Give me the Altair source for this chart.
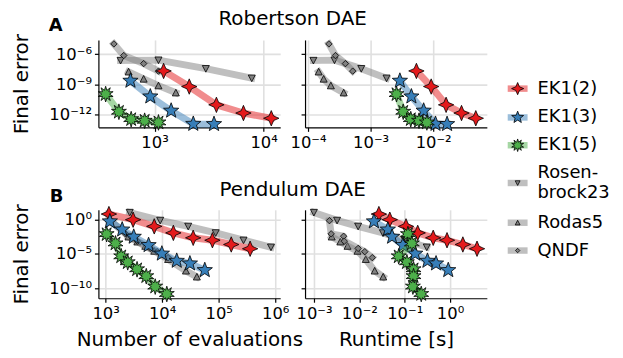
import math
import altair as alt
import pandas as pd

# ---------------- data ----------------
methods = ["EK1(2)", "EK1(3)", "EK1(5)", "Rosenbrock23", "Rodas5", "QNDF"]

# Robertson DAE
rob_ek1_2_err = [2.2e-8, 6.2e-10, 9.5e-12, 1.45e-12, 4.4e-13]
rob_ek1_2_nevals = [1210, 2080, 3690, 6530, 11750]
rob_ek1_2_runtime = [5.4e-3, 9.3e-3, 1.61e-2, 2.84e-2, 4.8e-2]

rob_ek1_3_err = [2.3e-9, 6.3e-11, 2.45e-12, 1.2e-13, 1.15e-13]
rob_ek1_3_nevals = [601, 914, 1419, 2265, 3508]
rob_ek1_3_runtime = [2.94e-3, 4.49e-3, 7.05e-3, 1.09e-2, 1.67e-2]

rob_ek1_5_err = [1.1e-10, 1.95e-12, 3.6e-13, 2.5e-13, 1.7e-13]
rob_ek1_5_nevals = [356, 471, 610, 811, 1086]
rob_ek1_5_runtime = [2.6e-3, 3.32e-3, 4.39e-3, 5.94e-3, 7.94e-3]

rob_rosenbrock_err = [2.4e-7, 2.6e-7, 3.7e-8, 4.2e-9]
rob_rosenbrock_nevals = [488, 1086, 2951, 7780]
rob_rosenbrock_runtime = [1.22e-4, 2.65e-4, 7.1e-4, 1.8e-3]

rob_rodas5_err = [1.8e-8, 3.5e-9, 7.6e-10, 1.5e-10]
rob_rodas5_nevals = [578, 794, 1086, 1567]
rob_rodas5_runtime = [1.48e-4, 1.78e-4, 2.32e-4, 3.72e-4]

rob_qndf_err = [1.05e-5, 7.4e-7, 1.17e-7, 2.1e-8]
rob_qndf_nevals = [424, 522, 794, 1086]
rob_qndf_runtime = [2.16e-4, 2.75e-4, 3.96e-4, 5.18e-4]

# Pendulum DAE
pen_ek1_2_err = [6.6, 1.0, 0.107, 0.012, 2.3e-3, 1.02e-3, 2.45e-4, 5.9e-5]
pen_ek1_2_nevals = [1143, 3062, 7244, 15780, 35400, 77450, 166700, 359700]
pen_ek1_2_runtime = [0.027, 0.047, 0.107, 0.194, 0.426, 0.859, 1.92, 3.94]

pen_ek1_3_err = [0.56, 0.036, 3.2e-3, 1.95e-4, 1.12e-5, 1.0e-6, 4.1e-7, 4.4e-8]
pen_ek1_3_nevals = [1189, 1963, 3141, 5754, 9886, 18110, 30970, 56750]
pen_ek1_3_runtime = [0.021, 0.0426, 0.0528, 0.0918, 0.171, 0.318, 0.492, 0.914]

pen_ek1_5_err = [7.9e-3, 3.5e-4, 4.6e-6, 6.3e-7, 6.0e-8, 5.9e-9, 1.8e-10, 1.5e-11]
pen_ek1_5_nevals = [1042, 1496, 1884, 2460, 3597, 5236, 7534, 12080]
pen_ek1_5_runtime = [0.118, 0.144, 0.074, 0.112, 0.157, 0.157, 0.152, 0.232]

pen_rosenbrock_err = [11.2, 0.79, 0.107, 0.012, 1.02e-3, 1.0e-4]
pen_rosenbrock_nevals = [2667, 9226, 28900, 88500, 274800, 841000]
pen_rosenbrock_runtime = [9.95e-4, 3.23e-3, 9.42e-3, 0.0331, 0.1, 0.307]

pen_rodas5_err = [3.2e-3, 6.0e-4, 1.41e-4, 2.7e-5, 1.7e-6, 3.5e-8, 4.7e-9]
pen_rodas5_nevals = [2535, 3639, 5035, 7244, 12740, 26360, 41110]
pen_rodas5_runtime = [2.46e-3, 3.81e-3, 5.5e-3, 9.1e-3, 0.01387, 0.0218, 0.0336]

pen_qndf_err = [0.72, 8.7e-3, 3.9e-3, 7.4e-4, 6.6e-5, 2.2e-5, 3.0e-6]
pen_qndf_nevals = [1225, 2244, 2748, 3639, 6152, 8166, 12740]
pen_qndf_runtime = [2.19e-3, 2.39e-3, 4.5e-3, 4.66e-3, 9.42e-3, 0.0132, 0.0193]

# axis ticks / domains
rob_nevals_ticks = [1e3, 1e4]
rob_runtime_ticks = [1e-4, 1e-3, 1e-2]
rob_err_ticks = [1e-12, 1e-9, 1e-6]
pen_nevals_ticks = [1e3, 1e4, 1e5, 1e6]
pen_runtime_ticks = [1e-3, 1e-2, 1e-1, 1e0]
pen_err_ticks = [1e-10, 1e-5, 1e0]

rob_nevals_domain = [305.5, 14190]
rob_runtime_domain = [8.97e-5, 0.0721]
rob_err_domain = [5.5e-14, 2.63e-5]
pen_nevals_domain = [745, 1.225e6]
pen_runtime_domain = [6.35e-4, 6.49]
pen_err_domain = [3.63e-12, 27.5]

# ---------------- assemble tables ----------------
series = {
    "Robertson": {
        "EK1(2)": (rob_ek1_2_err, rob_ek1_2_nevals, rob_ek1_2_runtime),
        "EK1(3)": (rob_ek1_3_err, rob_ek1_3_nevals, rob_ek1_3_runtime),
        "EK1(5)": (rob_ek1_5_err, rob_ek1_5_nevals, rob_ek1_5_runtime),
        "Rosenbrock23": (rob_rosenbrock_err, rob_rosenbrock_nevals, rob_rosenbrock_runtime),
        "Rodas5": (rob_rodas5_err, rob_rodas5_nevals, rob_rodas5_runtime),
        "QNDF": (rob_qndf_err, rob_qndf_nevals, rob_qndf_runtime),
    },
    "Pendulum": {
        "EK1(2)": (pen_ek1_2_err, pen_ek1_2_nevals, pen_ek1_2_runtime),
        "EK1(3)": (pen_ek1_3_err, pen_ek1_3_nevals, pen_ek1_3_runtime),
        "EK1(5)": (pen_ek1_5_err, pen_ek1_5_nevals, pen_ek1_5_runtime),
        "Rosenbrock23": (pen_rosenbrock_err, pen_rosenbrock_nevals, pen_rosenbrock_runtime),
        "Rodas5": (pen_rodas5_err, pen_rodas5_nevals, pen_rodas5_runtime),
        "QNDF": (pen_qndf_err, pen_qndf_nevals, pen_qndf_runtime),
    },
}

FONT = "DejaVu Sans"
GRAY = "#808080"
line_color = {"EK1(2)": "#e41a1c", "EK1(3)": "#377eb8", "EK1(5)": "#4daf4a",
              "Rosenbrock23": GRAY, "Rodas5": GRAY, "QNDF": GRAY}
fill_color = line_color


def star_path(n, inner):
    pts = []
    for k in range(2 * n):
        a = -math.pi / 2 + k * math.pi / n
        r = 1.0 if k % 2 == 0 else inner
        pts.append(f"{r * math.cos(a):.3f},{r * math.sin(a):.3f}")
    return "M" + "L".join(pts) + "Z"


shape = {
    "EK1(2)": star_path(4, 0.42),
    "EK1(3)": star_path(5, 0.42),
    "EK1(5)": star_path(10, 0.5),
    "Rosenbrock23": "M0,1L-1,-0.9L1,-0.9Z",
    "Rodas5": "M0,-1L-1,0.9L1,0.9Z",
    "QNDF": "M0,-1L1,0L0,1L-1,0Z",
}
msize = {"EK1(2)": 240, "EK1(3)": 260, "EK1(5)": 250,
         "Rosenbrock23": 50, "Rodas5": 50, "QNDF": 42}
lsize = {"EK1(2)": 150, "EK1(3)": 160, "EK1(5)": 160,
         "Rosenbrock23": 24, "Rodas5": 24, "QNDF": 20}
draw_order = ["Rosenbrock23", "Rodas5", "QNDF", "EK1(2)", "EK1(3)", "EK1(5)"]

SUP = {"-": "\u207b", "0": "\u2070", "1": "\u00b9", "2": "\u00b2", "3": "\u00b3",
       "4": "\u2074", "5": "\u2075", "6": "\u2076", "7": "\u2077", "8": "\u2078", "9": "\u2079"}


def label_expr(ticks):
    expr = "''"
    for t in ticks:
        e = int(round(math.log10(t)))
        s = "10" + "".join(SUP[c] for c in str(e))
        expr = f"(round(log(datum.value)/LN10) == {e} ? '{s}' : {expr})"
    return expr


W, HT, HB = 183, 88, 89


def panel(prob, xkey, xdomain, xticks, ydomain, yticks, height, left, xtitle):
    rows = []
    for m in methods:
        err, nev, rt = series[prob][m]
        for i in range(len(err)):
            rows.append({"method": m, "idx": i, "err": err[i],
                         "nevals": nev[i], "runtime": rt[i]})
    df = pd.DataFrame(rows)

    xaxis = alt.Axis(values=xticks, labelExpr=label_expr(xticks), grid=True,
                     title=xtitle if xtitle else None,
                     titleY=48, titleBaseline="alphabetic", titleAnchor="middle")
    if left:
        yaxis = alt.Axis(values=yticks, labelExpr=label_expr(yticks), grid=True,
                         title="Final error", titleX=-71, titleY=height / 2,
                         titleAngle=270, titleBaseline="alphabetic", titleAlign="center")
    else:
        yaxis = alt.Axis(values=yticks, labels=False, grid=True, title=None)
    X = alt.X(f"{xkey}:Q", scale=alt.Scale(type="log", domain=xdomain, nice=False), axis=xaxis)
    Y = alt.Y("err:Q", scale=alt.Scale(type="log", domain=ydomain, nice=False), axis=yaxis)

    layers = []
    for m in draw_order:
        d = df[df.method == m]
        base = alt.Chart(d).encode(x=X, y=Y, order="idx:Q")
        layers.append(base.mark_line(color=line_color[m], strokeWidth=7, opacity=0.5,
                                     strokeCap="square", strokeJoin="round"))
        layers.append(base.mark_point(shape=shape[m], filled=True, fill=fill_color[m],
                                      stroke="black", strokeWidth=0.8, opacity=1,
                                      size=msize[m]))
    return layers


def text_layer(txt, x, y, **kw):
    return alt.Chart(pd.DataFrame({"t": [txt]})).mark_text(font=FONT, **kw).encode(
        x=alt.value(x), y=alt.value(y), text="t:N")


# panels
tl_layers = panel("Robertson", "nevals", rob_nevals_domain, rob_nevals_ticks,
                  rob_err_domain, rob_err_ticks, HT, True, None)
tl_layers.append(text_layer("A", -50, -9, fontSize=18, fontWeight="bold",
                            align="left", baseline="alphabetic"))
tl_layers.append(text_layer("Robertson DAE", W + 12.5, -15, fontSize=20,
                            align="center", baseline="alphabetic"))
tl = alt.layer(*tl_layers).properties(width=W, height=HT)

tr_layers = panel("Robertson", "runtime", rob_runtime_domain, rob_runtime_ticks,
                  rob_err_domain, rob_err_ticks, HT, False, None)

# manual legend (drawn to the right of the top-right panel)
LH = 20
leg_y = {"EK1(2)": 49, "EK1(3)": 78, "EK1(5)": 106,
         "Rosenbrock23": 144, "Rodas5": 184, "QNDF": 212}
leg_text = {"EK1(2)": "EK1(2)", "EK1(3)": "EK1(3)", "EK1(5)": "EK1(5)",
            "Rosenbrock23": "Rosen-\nbrock23", "Rodas5": "Rodas5", "QNDF": "QNDF"}
for m in methods:
    yy = leg_y[m]
    nlines = leg_text[m].count("\n") + 1
    one = pd.DataFrame({"t": [leg_text[m]]})
    tr_layers.append(alt.Chart(one).mark_rule(color=line_color[m], strokeWidth=6.5,
                                              opacity=0.5).encode(
        x=alt.value(204), x2=alt.value(224), y=alt.value(yy)))
    tr_layers.append(alt.Chart(one).mark_point(shape=shape[m], filled=True, fill=fill_color[m],
                                               stroke="black", strokeWidth=0.8, opacity=1,
                                               size=lsize[m]).encode(
        x=alt.value(214), y=alt.value(yy)))
    tr_layers.append(alt.Chart(one).mark_text(font=FONT, fontSize=18, align="left",
                                              baseline="middle", lineBreak="\n",
                                              lineHeight=LH).encode(
        x=alt.value(234), y=alt.value(yy - (nlines - 1) * LH / 2), text="t:N"))
tr = alt.layer(*tr_layers).properties(width=W, height=HT)

bl_layers = panel("Pendulum", "nevals", pen_nevals_domain, pen_nevals_ticks,
                  pen_err_domain, pen_err_ticks, HB, True, "Number of evaluations")
bl_layers.append(text_layer("B", -49, -8, fontSize=18, fontWeight="bold",
                            align="left", baseline="alphabetic"))
bl_layers.append(text_layer("Pendulum DAE", W + 12.5, -14, fontSize=20,
                            align="center", baseline="alphabetic"))
bl = alt.layer(*bl_layers).properties(width=W, height=HB)

br_layers = panel("Pendulum", "runtime", pen_runtime_domain, pen_runtime_ticks,
                  pen_err_domain, pen_err_ticks, HB, False, "Runtime [s]")
br = alt.layer(*br_layers).properties(width=W, height=HB)

chart = alt.concat(tl, tr, bl, br, columns=2, spacing={"row": 83, "column": 25},
                   bounds="flush").properties(
    padding={"left": 3, "top": 0, "right": 5, "bottom": 5}
).configure(font=FONT).configure_view(stroke=None).configure_axis(
    domainColor="black", domainWidth=1.2, tickColor="black", tickSize=4, tickWidth=1.2,
    gridColor="#e0e0e0", gridWidth=1.6, labelColor="black", labelFontSize=16.5,
    labelFont=FONT, labelPadding=3, titleColor="black", titleFontSize=20,
    titleFontWeight="normal", titleFont=FONT, labelFlush=False, labelOverlap=False
)

chart.save("out.html", embed_options={"renderer": "svg", "actions": False})
